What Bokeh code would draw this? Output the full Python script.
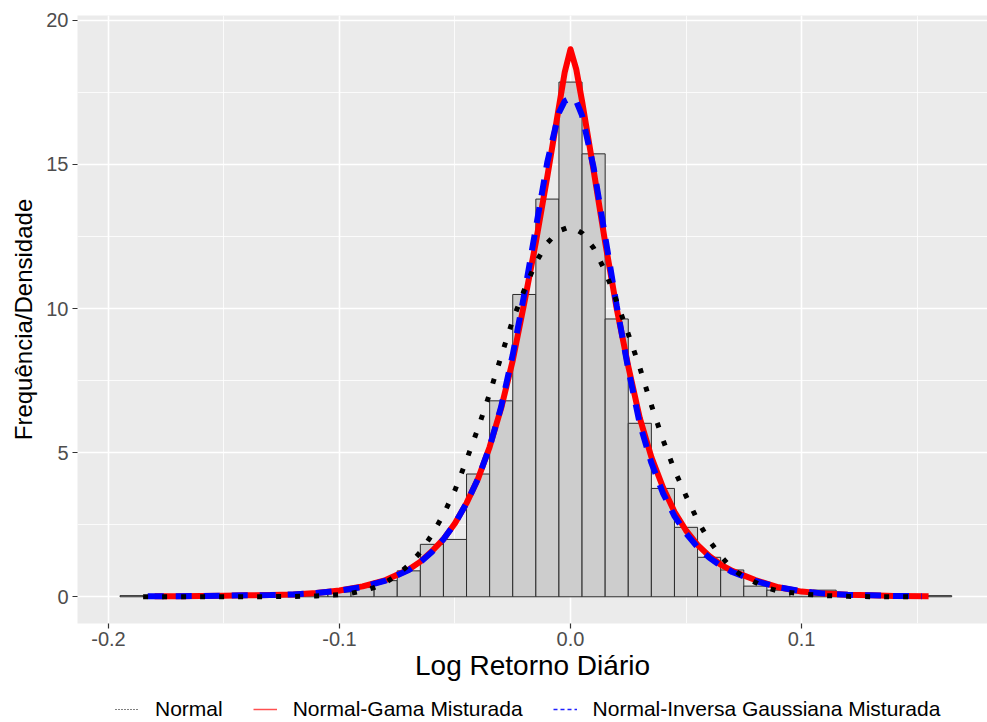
from bokeh.plotting import figure
from bokeh.layouts import column
from bokeh.models import (Range1d, SingleIntervalTicker, PrintfTickFormatter,
                          Legend, LegendItem)
from bokeh.embed import file_html
from bokeh.resources import INLINE

# ---------------- data ----------------
bin_centers = [-0.19, -0.18, -0.17, -0.16, -0.15, -0.14, -0.13, -0.12, -0.11, -0.10,
               -0.09, -0.08, -0.07, -0.06, -0.05, -0.04, -0.03, -0.02, -0.01, 0.00,
               0.01, 0.02, 0.03, 0.04, 0.05, 0.06, 0.07, 0.08, 0.09, 0.10,
               0.11, 0.12, 0.13, 0.14, 0.15, 0.16]
bin_density = [0.04, 0.0, 0.0, 0.04, 0.0, 0.04, 0.04, 0.08, 0.12, 0.17,
               0.32, 0.56, 0.90, 1.82, 1.99, 4.26, 6.80, 10.49, 13.80, 17.86,
               15.37, 9.64, 6.02, 3.76, 2.41, 1.37, 0.93, 0.37, 0.23, 0.15,
               0.23, 0.04, 0.0, 0.0, 0.04, 0.04]
BIN_WIDTH = 0.01

normal_x = [-0.185, -0.15, -0.13, -0.12, -0.11, -0.10, -0.095, -0.09, -0.085, -0.08,
            -0.075, -0.07, -0.065, -0.06, -0.055, -0.05, -0.045, -0.04, -0.035, -0.03,
            -0.025, -0.02, -0.015, -0.01, -0.005, 0.0, 0.005, 0.01, 0.015, 0.02,
            0.025, 0.03, 0.035, 0.04, 0.045, 0.05, 0.055, 0.06, 0.065, 0.07,
            0.075, 0.08, 0.085, 0.09, 0.10, 0.11, 0.12, 0.13, 0.148]
normal_y = [0.0, 0.0, 0.005, 0.01, 0.03, 0.07, 0.12, 0.2, 0.32, 0.5,
            0.76, 1.1, 1.55, 2.15, 2.85, 3.7, 4.75, 5.85, 7.05, 8.35,
            9.6, 10.65, 11.6, 12.28, 12.7, 12.85, 12.62, 12.1, 11.3, 10.25,
            9.12, 7.95, 6.65, 5.45, 4.4, 3.5, 2.65, 1.95, 1.42, 0.97,
            0.69, 0.5, 0.31, 0.2, 0.1, 0.04, 0.015, 0.005, 0.0]

ng_x = [-0.18, -0.17, -0.16, -0.15, -0.14, -0.13, -0.12, -0.11, -0.10, -0.09,
        -0.08, -0.07, -0.065, -0.06, -0.055, -0.05, -0.045, -0.04, -0.035, -0.03,
        -0.025, -0.02, -0.015, -0.01, -0.005, -0.0025, 0.0, 0.0025, 0.005, 0.01,
        0.015, 0.02, 0.025, 0.03, 0.035, 0.04, 0.045, 0.05, 0.055, 0.06,
        0.065, 0.07, 0.08, 0.09, 0.10, 0.11, 0.12, 0.13, 0.14, 0.155]
ng_y = [0.02, 0.02, 0.03, 0.04, 0.05, 0.06, 0.08, 0.13, 0.22, 0.36,
        0.58, 0.95, 1.22, 1.58, 2.0, 2.55, 3.25, 4.1, 5.2, 6.55,
        8.2, 10.2, 12.3, 14.6, 17.0, 18.2, 19.0, 18.3, 17.2, 14.8,
        12.3, 10.0, 8.0, 6.2, 4.85, 3.8, 2.95, 2.3, 1.8, 1.42,
        1.12, 0.9, 0.58, 0.33, 0.18, 0.11, 0.07, 0.05, 0.03, 0.02]

nig_x = [-0.183, -0.17, -0.16, -0.15, -0.14, -0.13, -0.12, -0.11, -0.10, -0.09,
         -0.08, -0.07, -0.065, -0.06, -0.055, -0.05, -0.045, -0.04, -0.035, -0.03,
         -0.025, -0.02, -0.015, -0.01, -0.005, -0.0025, 0.0, 0.0025, 0.005, 0.01,
         0.015, 0.02, 0.025, 0.03, 0.035, 0.04, 0.045, 0.05, 0.055, 0.06,
         0.065, 0.07, 0.08, 0.09, 0.10, 0.11, 0.12, 0.13, 0.14, 0.152]
nig_y = [0.02, 0.02, 0.03, 0.04, 0.05, 0.06, 0.08, 0.13, 0.21, 0.34,
         0.56, 0.93, 1.2, 1.55, 2.0, 2.55, 3.25, 4.1, 5.2, 6.6,
         8.4, 10.5, 12.8, 15.1, 16.8, 17.2, 17.3, 17.2, 16.7, 14.9,
         12.5, 10.1, 7.9, 6.0, 4.65, 3.6, 2.8, 2.2, 1.72, 1.36,
         1.08, 0.86, 0.55, 0.33, 0.19, 0.11, 0.07, 0.05, 0.03, 0.02]

legend_labels = ["Normal", "Normal-Gama Misturada", "Normal-Inversa Gaussiana Misturada"]
x_title = "Log Retorno Diário"
y_title = "Frequência/Densidade"

FONT = "Liberation Sans"
X0, X1 = -0.2134, 0.1805
Y0, Y1 = -0.927, 20.17

# ---------------- main figure ----------------
p = figure(width=987, height=690, output_backend="svg", toolbar_location=None,
           x_range=Range1d(X0, X1), y_range=Range1d(Y0, Y1),
           min_border_left=77, min_border_right=0, min_border_top=15,
           min_border_bottom=67)

p.background_fill_color = "#EBEBEB"
p.border_fill_color = "white"
p.outline_line_color = None

p.xaxis.ticker = SingleIntervalTicker(interval=0.1, num_minor_ticks=2)
p.yaxis.ticker = SingleIntervalTicker(interval=5, num_minor_ticks=2)
p.xaxis.formatter = PrintfTickFormatter(format="%.1f")

for g in (p.xgrid, p.ygrid):
    g.grid_line_color = "white"
    g.grid_line_width = 1.6
    g.minor_grid_line_color = "white"
    g.minor_grid_line_width = 0.8

for ax in (p.xaxis, p.yaxis):
    ax.axis_line_color = None
    ax.major_tick_line_color = "#333333"
    ax.major_tick_line_width = 1.2
    ax.major_tick_out = 5
    ax.major_tick_in = 0
    ax.minor_tick_line_color = None
    ax.major_label_text_font = FONT
    ax.major_label_text_font_size = "20px"
    ax.major_label_text_color = "#4D4D4D"
    ax.axis_label_text_font = FONT
    ax.axis_label_text_font_style = "normal"
    ax.axis_label_text_color = "black"

p.xaxis.axis_label = x_title
p.yaxis.axis_label = y_title
p.xaxis.axis_label_text_font_size = "28px"
p.yaxis.axis_label_text_font_size = "24px"
p.xaxis.major_label_standoff = 3
p.xaxis.axis_label_standoff = 1
p.yaxis.major_label_standoff = 4
p.yaxis.axis_label_standoff = 6

# histogram
lefts = [c - BIN_WIDTH / 2 for c in bin_centers]
rights = [c + BIN_WIDTH / 2 for c in bin_centers]
p.quad(left=lefts, right=rights, bottom=0, top=bin_density,
       fill_color="#CDCDCD", line_color="#2b2b2b", line_width=1)

# curves
p.line(ng_x, ng_y, line_color="red", line_width=6, line_join="round")
p.line(nig_x, nig_y, line_color="blue", line_width=6, line_dash="16 12")
p.line(normal_x, normal_y, line_color="black", line_width=5, line_dash="5 14")

# ---------------- legend strip ----------------
lg = figure(width=987, height=32, output_backend="svg", toolbar_location=None,
            x_range=Range1d(0, 1), y_range=Range1d(0, 1),
            x_axis_location=None, y_axis_location=None,
            min_border=0, min_border_left=0, min_border_right=0,
            min_border_top=0, min_border_bottom=0)
lg.grid.visible = False
lg.outline_line_color = None
lg.background_fill_color = "white"
lg.border_fill_color = "white"

# proxy glyphs for legend keys, lying outside the visible range
px = [-2, -1]
py = [-2, -2]
k_norm = lg.line(px, py, line_color="black", line_width=1, line_dash="1 2")
k_ng = lg.line(px, py, line_color="#FF5050", line_width=1.5)
k_nig = lg.line(px, py, line_color="#2020FF", line_width=1.6, line_dash="4 3")

legend = Legend(items=[LegendItem(label=legend_labels[0], renderers=[k_norm]),
                       LegendItem(label=legend_labels[1], renderers=[k_ng]),
                       LegendItem(label=legend_labels[2], renderers=[k_nig])],
                orientation="horizontal", location=(38, 1))
legend.label_text_font = FONT
legend.label_text_font_size = "21px"
legend.label_text_color = "black"
legend.glyph_width = 24
legend.glyph_height = 20
legend.label_standoff = 16
legend.spacing = 30
legend.padding = 2
legend.margin = 0
legend.border_line_color = None
legend.background_fill_color = None
legend.background_fill_alpha = 0
lg.add_layout(legend, "center")

layout = column(p, lg, spacing=0)
open("out.html", "w").write(file_html(layout, INLINE))
